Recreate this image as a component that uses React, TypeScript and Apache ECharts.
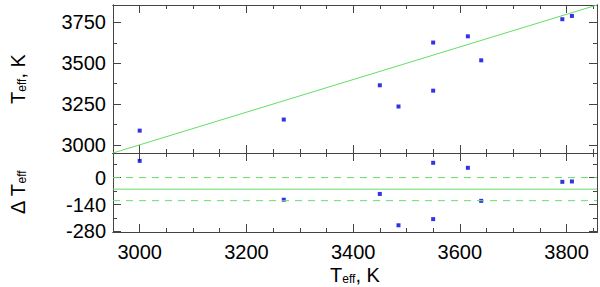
import React, { useEffect, useRef } from "react";
import * as echarts from "echarts";

// ---- data ----
const tModel = [3000, 3270, 3450, 3485, 3550, 3550, 3615, 3640, 3792, 3810];
const tObs = [3087, 3155, 3365, 3235, 3627, 3332, 3665, 3518, 3770, 3790];
const deltaT = [87, -115, -85, -248, 77, -216, 51, -121, -22, -20];
const oneToOne = [2950, 3857];
const meanDelta = -60;
const bandDelta = [0, -120];

const xRange = [2950, 3857];
const yTopRange = [2950, 3857];
const yBotRange = [-283, 128];

const xMajor = [3000, 3200, 3400, 3600, 3800];
const xMinor = [3050, 3100, 3150, 3250, 3300, 3350, 3450, 3500, 3550, 3650, 3700, 3750, 3850];
const yTopMajor = [3000, 3250, 3500, 3750];
const yTopMinor = [3125, 3375, 3625];
const yBotMajor = [-280, -140, 0];
const yBotMinor = [-210, -70, 70];

const FONT = "Liberation Sans, Arial, Helvetica, sans-serif";
const AX = "#444";

const nameRich = {
  t: { fontFamily: FONT, fontSize: 20, color: "#000", lineHeight: 23, verticalAlign: "bottom" },
  s: { fontFamily: FONT, fontSize: 12, color: "#000", lineHeight: 8, verticalAlign: "bottom" },
};

function axis(kind: "x" | "y", gridIndex: number, position: string, range: number[], values: number[], len: number, extra: any = {}) {
  return {
    type: "value",
    gridIndex,
    position,
    min: range[0],
    max: range[1],
    splitLine: { show: false },
    axisLine: { show: true, onZero: false, lineStyle: { color: AX, width: 1 } },
    axisTick: { show: true, inside: true, length: len, customValues: values, lineStyle: { color: AX, width: 1 } },
    axisLabel: { show: false },
    ...extra,
  };
}

export default function App() {
  const ref = useRef<HTMLDivElement>(null);
  useEffect(() => {
    if (!ref.current) return;
    const chart = echarts.init(ref.current, null, { renderer: "svg" });
    const labelStyle = {
      show: true,
      fontFamily: FONT,
      fontSize: 20,
      color: "#000",
      formatter: (v: number) => String(v),
    };

    const xAxes = [
      axis("x", 0, "bottom", xRange, xMajor, 8),
      axis("x", 0, "bottom", xRange, xMinor, 4),
      axis("x", 0, "top", xRange, xMajor, 8),
      axis("x", 0, "top", xRange, xMinor, 4),
      axis("x", 1, "bottom", xRange, xMajor, 8, {
        axisLabel: { ...labelStyle, customValues: xMajor, margin: 10 },
        name: "{t|T}{s|eff}{t|, K}",
        nameLocation: "middle",
        nameGap: 30,
        nameTextStyle: { rich: nameRich },
      }),
      axis("x", 1, "bottom", xRange, xMinor, 4),
      axis("x", 1, "top", xRange, xMajor, 8),
      axis("x", 1, "top", xRange, xMinor, 4),
    ];
    const yAxes = [
      axis("y", 0, "left", yTopRange, yTopMajor, 8, {
        axisLabel: { ...labelStyle, customValues: yTopMajor, margin: 7 },
        name: "{t|T}{s|eff}{t|, K}",
        nameLocation: "middle",
        nameGap: 85,
        nameRotate: 90,
        nameTextStyle: { rich: nameRich },
      }),
      axis("y", 0, "left", yTopRange, yTopMinor, 4),
      axis("y", 0, "right", yTopRange, yTopMajor, 8),
      axis("y", 0, "right", yTopRange, yTopMinor, 4),
      axis("y", 1, "left", yBotRange, yBotMajor, 8, {
        axisLabel: { ...labelStyle, customValues: yBotMajor, margin: 7 },
        name: "{t|Δ T}{s|eff}",
        nameLocation: "middle",
        nameGap: 85,
        nameRotate: 90,
        nameTextStyle: { rich: nameRich },
      }),
      axis("y", 1, "left", yBotRange, yBotMinor, 4),
      axis("y", 1, "right", yBotRange, yBotMajor, 8),
      axis("y", 1, "right", yBotRange, yBotMinor, 4),
    ];

    const green = "#66dd66";
    const blue = "#0000dd";
    const hLine = (v: number, dashed: boolean) => ({
      type: "line",
      xAxisIndex: 4,
      yAxisIndex: 4,
      data: [[xRange[0], v], [xRange[1], v]],
      symbol: "none",
      silent: true,
      lineStyle: { color: green, width: 1, type: dashed ? [7, 6] : "solid" },
    });

    chart.setOption({
      animation: false,
      backgroundColor: "#fff",
      grid: [
        { left: 102, right: 3, top: 5, height: 148 },
        { left: 102, right: 3, top: 153, height: 79 },
      ],
      xAxis: xAxes,
      yAxis: yAxes,
      series: [
        {
          type: "line",
          xAxisIndex: 0,
          yAxisIndex: 0,
          data: [[oneToOne[0], oneToOne[0]], [oneToOne[1], oneToOne[1]]],
          symbol: "none",
          lineStyle: { color: green, width: 1 },
        },
        {
          type: "scatter",
          xAxisIndex: 0,
          yAxisIndex: 0,
          symbol: "rect",
          symbolSize: 4,
          itemStyle: { color: blue },
          data: tModel.map((x, i) => [x, tObs[i]]),
        },
        hLine(meanDelta, false),
        hLine(bandDelta[0], true),
        hLine(bandDelta[1], true),
        {
          type: "scatter",
          xAxisIndex: 4,
          yAxisIndex: 4,
          symbol: "rect",
          symbolSize: 4,
          itemStyle: { color: blue },
          data: tModel.map((x, i) => [x, deltaT[i]]),
        },
      ],
    });
    return () => chart.dispose();
  }, []);
  return <div ref={ref} style={{ position: "fixed", left: 0, top: 0, width: 600, height: 287 }} />;
}
